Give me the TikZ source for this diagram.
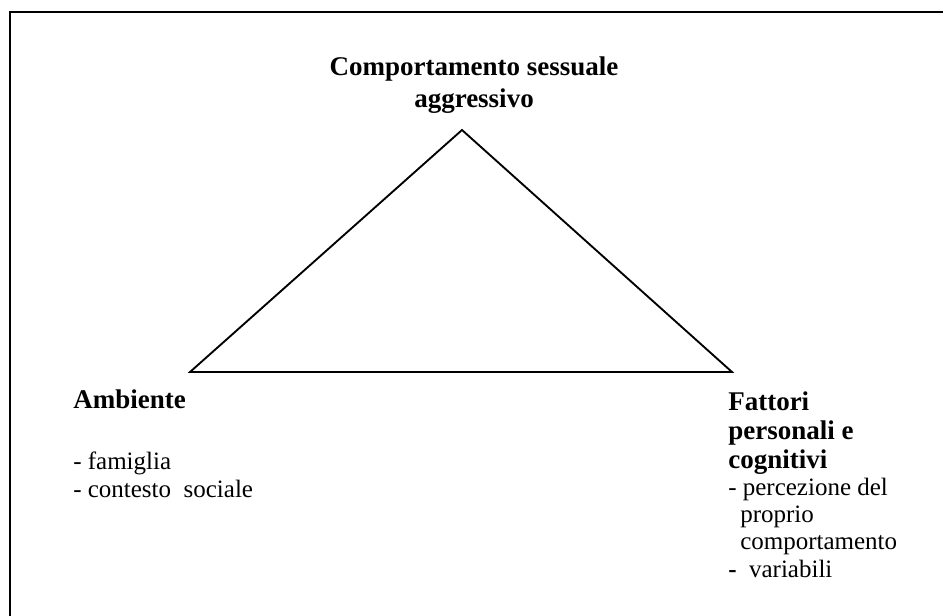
\documentclass[tikz,border=0pt]{standalone}
\usepackage{fontspec}
\setmainfont{Liberation Serif}
\usetikzlibrary{positioning}

\begin{document}
\begin{tikzpicture}[x=0.75pt, y=-0.75pt,
    heading/.style={
        inner sep=0pt,
        align=left,
        font=\fontsize{20.25pt}{21.75pt}\selectfont\bfseries
        },
    title/.style={
        inner sep=0pt,
        align=center,
        font=\fontsize{20.25pt}{24pt}\selectfont\bfseries
        },
    itemlist/.style={
        inner sep=0pt,
        align=left,
        font=\fontsize{18.75pt}{20.5pt}\selectfont
        },
    frame/.style={line width=1.5pt},
    tri/.style={line width=1.4pt, line join=miter}]

    \clip (0,0) rectangle (943,615);

    % vertices of the triangle
    \coordinate (apex) at (462,130);
    \coordinate (left_v) at (190,372);
    \coordinate (right_v) at (732,372);

    % base anchor of a multi-line node is its last line
    \node (title) [title, anchor=base] at (474,107) {Comportamento sessuale\\aggressivo};

    \node (amb_head) [heading, anchor=base west] at (73,408) {Ambiente};
    \node (amb_list) [itemlist, anchor=base west] at (73,497) {- famiglia\\- contesto\ \ sociale};

    \node (fat_head) [heading, anchor=base west] at (728,468) {Fattori\\personali e\\cognitivi};
    \node (fat_list) [itemlist, anchor=base west] at (728,577) {- percezione del\\\hspace*{9pt}proprio\\\hspace*{9pt}comportamento\\\textbf{-}\ \ variabili};

    \draw[tri] (apex) -- (left_v) -- (right_v) -- cycle;

    \draw[frame] (10,625) |- (955,12);
\end{tikzpicture}
\end{document}
